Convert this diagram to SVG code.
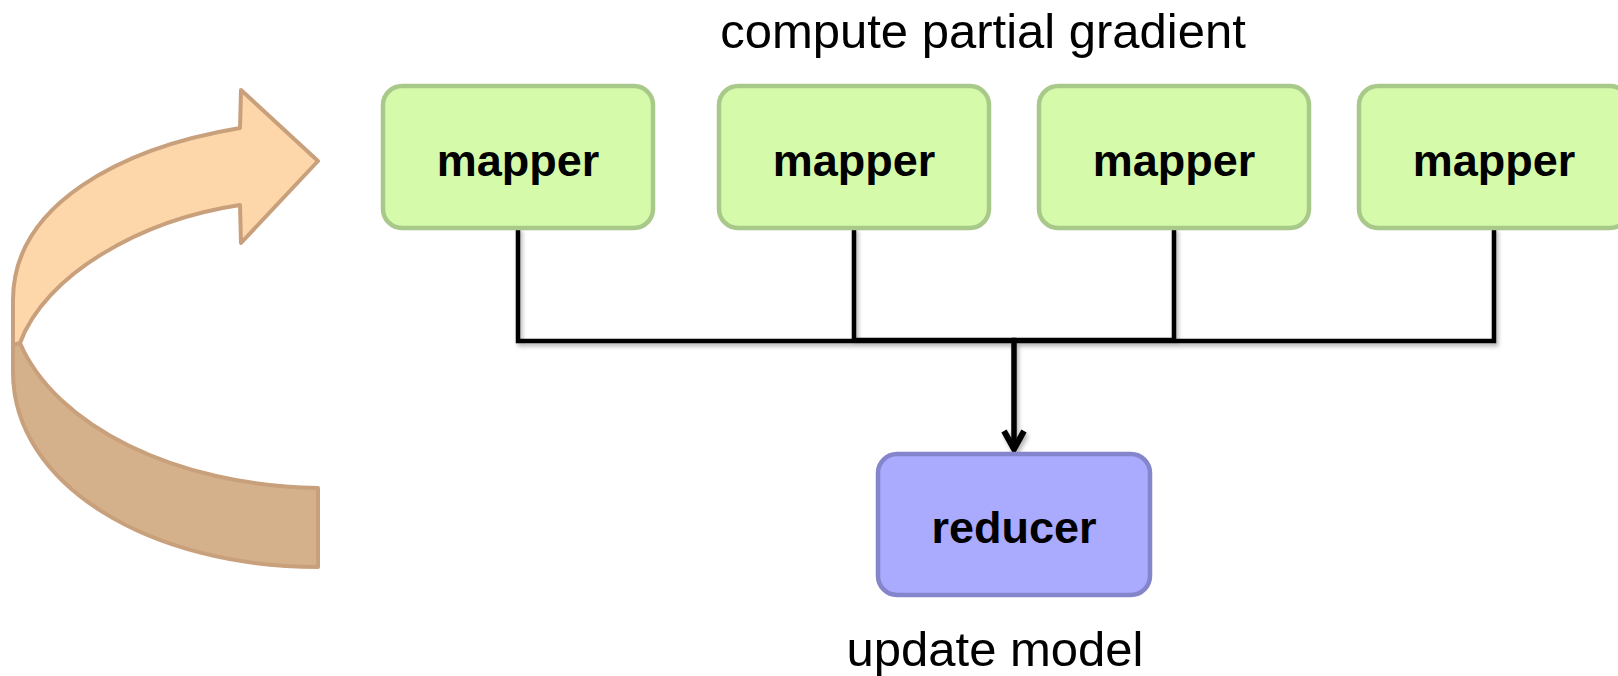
<svg xmlns="http://www.w3.org/2000/svg" width="1618" height="676" viewBox="0 0 1618 676">
  <style>
    .mapper rect { fill: #d5fbaa; stroke: #a9c98a; stroke-width: 4.5; }
    .reducer rect { fill: #aaaaff; stroke: #8585cc; stroke-width: 4.5; }
    .node-label { font-family: "Liberation Sans", Arial, sans-serif; font-weight: bold; font-size: 45px; fill: #000; text-anchor: middle; }
    .caption { font-family: "Liberation Sans", Arial, sans-serif; font-size: 49px; fill: #000; text-anchor: middle; }
    .wire { fill: none; stroke: #000; stroke-width: 4.5; stroke-linejoin: miter; stroke-linecap: square; }
    .trunk { fill: none; stroke: #000; stroke-width: 5.5; stroke-linecap: butt; }
    .loop-light { fill: #fdd6a9; stroke: #c9a07c; stroke-width: 4; stroke-linejoin: round; }
    .loop-dark { fill: #d4b18b; stroke: #c9a07c; stroke-width: 4; stroke-linejoin: round; }
  </style>
  <defs>
    <filter id="wireShadow" x="-5%" y="-20%" width="110%" height="140%">
      <feDropShadow dx="2" dy="3" stdDeviation="2" flood-color="#000" flood-opacity="0.3"/>
    </filter>
    <marker id="chevron" markerUnits="userSpaceOnUse" markerWidth="40" markerHeight="40" refX="0" refY="0" orient="auto" overflow="visible">
      <path d="M -19,-10 L -1,0 L -19,10" fill="none" stroke="#000" stroke-width="6" stroke-linejoin="miter"/>
    </marker>
  </defs>

  <!-- iteration loop arrow -->
  <g id="loop-arrow">
    <path class="loop-dark" d="M 20,343 C 55,425 175,486 318,488 L 318,567 C 150,567 13,485 13,372 L 13,330 Z"/>
    <path class="loop-light" d="M 13,345 L 13,300 C 13,205 120,148 240,128 L 241,90 L 318,161 L 241,243 L 240,205 C 140,220 45,275 20,343 Z"/>
  </g>

  <!-- captions -->
  <text class="caption" x="983" y="48">compute partial gradient</text>
  <text class="caption" x="995" y="666">update model</text>

  <!-- connectors: each mapper feeds the reducer -->
  <g id="connectors" filter="url(#wireShadow)">
    <path class="wire" d="M 518,230 L 518,341 L 1014,341"/>
    <path class="wire" d="M 854,230 L 854,340 L 1014,340"/>
    <path class="wire" d="M 1174,230 L 1174,340 L 1014,340"/>
    <path class="wire" d="M 1494,230 L 1494,341 L 1014,341"/>
    <path class="trunk" d="M 1014,339 L 1014,450" marker-end="url(#chevron)"/>
  </g>

  <!-- mappers -->
  <g id="mapper-1" class="mapper">
    <rect x="383" y="86" width="270" height="142" rx="19"/>
    <text class="node-label" x="518" y="176">mapper</text>
  </g>
  <g id="mapper-2" class="mapper">
    <rect x="719" y="86" width="270" height="142" rx="19"/>
    <text class="node-label" x="854" y="176">mapper</text>
  </g>
  <g id="mapper-3" class="mapper">
    <rect x="1039" y="86" width="270" height="142" rx="19"/>
    <text class="node-label" x="1174" y="176">mapper</text>
  </g>
  <g id="mapper-4" class="mapper">
    <rect x="1359" y="86" width="270" height="142" rx="19"/>
    <text class="node-label" x="1494" y="176">mapper</text>
  </g>

  <!-- reducer -->
  <g id="reducer" class="reducer">
    <rect x="878" y="454" width="272" height="141" rx="19"/>
    <text class="node-label" x="1014" y="543">reducer</text>
  </g>
</svg>
